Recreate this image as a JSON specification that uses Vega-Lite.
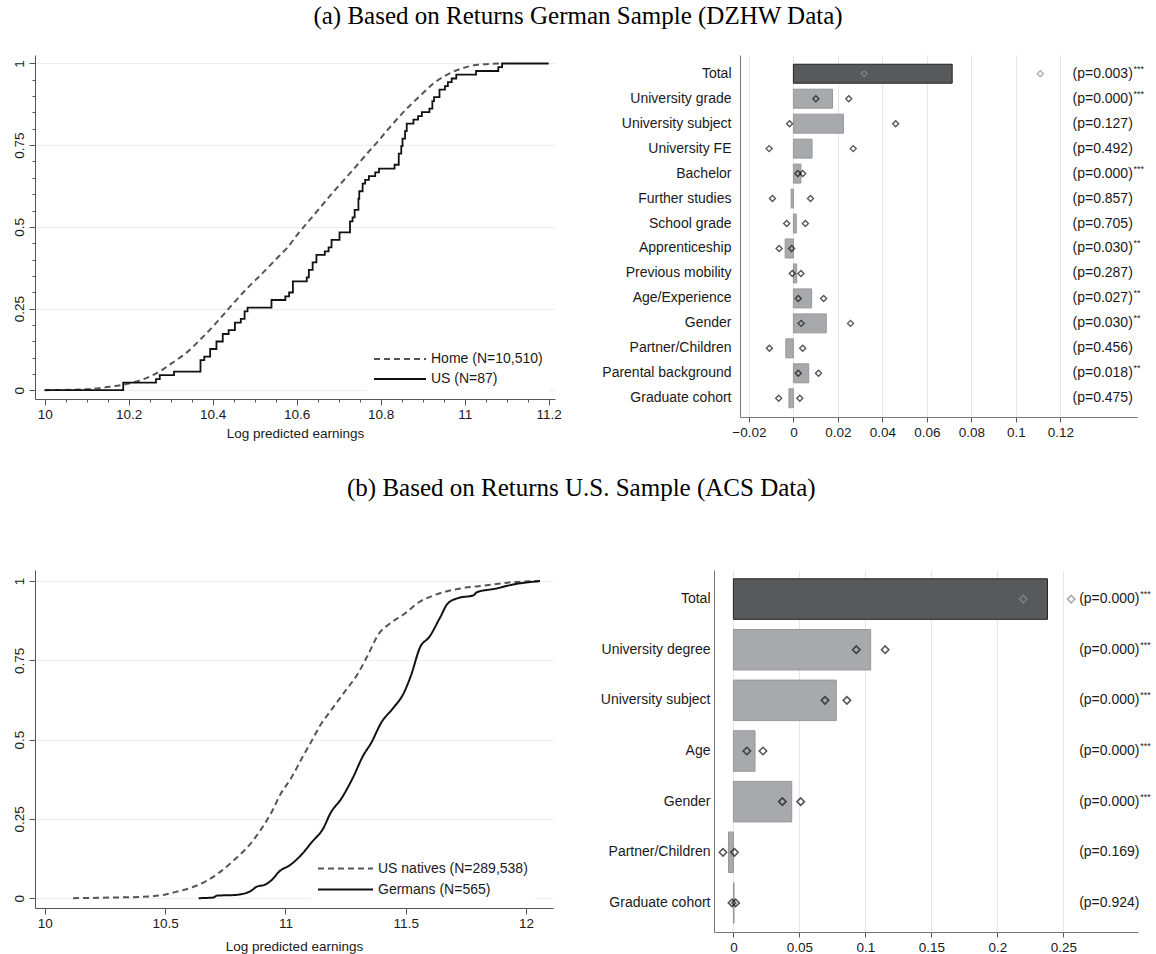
{
  "$schema": "https://vega.github.io/schema/vega-lite/v6.json",
  "padding": {"left": 11, "top": 4, "right": 0, "bottom": 0},
  "background": "white",
  "config": {
    "view": {"stroke": null},
    "font": "Liberation Sans",
    "axis": {"labelFont": "Liberation Sans", "titleFont": "Liberation Sans", "labelFontSize": 13.5, "titleFontSize": 13.5, "labelColor": "#1a1a1a", "titleColor": "#1a1a1a", "titleFontWeight": "normal", "domainColor": "#555555", "tickColor": "#555555", "gridColor": "#ececec"},
    "title": {"font": "Liberation Serif", "fontSize": 25, "fontWeight": "normal", "color": "#000000", "anchor": "middle"},
    "legend": {"labelFont": "Liberation Sans", "labelFontSize": 14, "labelColor": "#1a1a1a", "symbolType": "stroke", "symbolStrokeWidth": 2, "rowPadding": 4, "labelOffset": 4, "padding": 6, "fillColor": "white"}
  },
  "resolve": {"scale": {"color": "independent", "strokeDash": "independent"}, "legend": {"color": "independent", "strokeDash": "independent"}},
  "datasets": {
    "cdfA": [
      {"s": "Home (N=10,510)", "x": 10.0, "y": 0},
      {"s": "Home (N=10,510)", "x": 10.1, "y": 0.003},
      {"s": "Home (N=10,510)", "x": 10.151, "y": 0.01},
      {"s": "Home (N=10,510)", "x": 10.2, "y": 0.02},
      {"s": "Home (N=10,510)", "x": 10.249, "y": 0.041},
      {"s": "Home (N=10,510)", "x": 10.276, "y": 0.059},
      {"s": "Home (N=10,510)", "x": 10.302, "y": 0.082},
      {"s": "Home (N=10,510)", "x": 10.338, "y": 0.115},
      {"s": "Home (N=10,510)", "x": 10.373, "y": 0.158},
      {"s": "Home (N=10,510)", "x": 10.4, "y": 0.194},
      {"s": "Home (N=10,510)", "x": 10.427, "y": 0.233},
      {"s": "Home (N=10,510)", "x": 10.453, "y": 0.271},
      {"s": "Home (N=10,510)", "x": 10.48, "y": 0.309},
      {"s": "Home (N=10,510)", "x": 10.516, "y": 0.355},
      {"s": "Home (N=10,510)", "x": 10.551, "y": 0.401},
      {"s": "Home (N=10,510)", "x": 10.578, "y": 0.437},
      {"s": "Home (N=10,510)", "x": 10.604, "y": 0.48},
      {"s": "Home (N=10,510)", "x": 10.631, "y": 0.521},
      {"s": "Home (N=10,510)", "x": 10.658, "y": 0.562},
      {"s": "Home (N=10,510)", "x": 10.684, "y": 0.602},
      {"s": "Home (N=10,510)", "x": 10.711, "y": 0.641},
      {"s": "Home (N=10,510)", "x": 10.738, "y": 0.68},
      {"s": "Home (N=10,510)", "x": 10.764, "y": 0.719},
      {"s": "Home (N=10,510)", "x": 10.791, "y": 0.758},
      {"s": "Home (N=10,510)", "x": 10.818, "y": 0.799},
      {"s": "Home (N=10,510)", "x": 10.844, "y": 0.837},
      {"s": "Home (N=10,510)", "x": 10.871, "y": 0.873},
      {"s": "Home (N=10,510)", "x": 10.898, "y": 0.906},
      {"s": "Home (N=10,510)", "x": 10.924, "y": 0.937},
      {"s": "Home (N=10,510)", "x": 10.96, "y": 0.967},
      {"s": "Home (N=10,510)", "x": 10.996, "y": 0.986},
      {"s": "Home (N=10,510)", "x": 11.031, "y": 0.996},
      {"s": "Home (N=10,510)", "x": 11.084, "y": 1.0},
      {"s": "US (N=87)", "x": 10.0, "y": 0},
      {"s": "US (N=87)", "x": 10.187, "y": 0.023},
      {"s": "US (N=87)", "x": 10.265, "y": 0.034},
      {"s": "US (N=87)", "x": 10.274, "y": 0.046},
      {"s": "US (N=87)", "x": 10.308, "y": 0.057},
      {"s": "US (N=87)", "x": 10.371, "y": 0.092},
      {"s": "US (N=87)", "x": 10.38, "y": 0.103},
      {"s": "US (N=87)", "x": 10.394, "y": 0.126},
      {"s": "US (N=87)", "x": 10.409, "y": 0.149},
      {"s": "US (N=87)", "x": 10.424, "y": 0.172},
      {"s": "US (N=87)", "x": 10.438, "y": 0.184},
      {"s": "US (N=87)", "x": 10.453, "y": 0.207},
      {"s": "US (N=87)", "x": 10.467, "y": 0.218},
      {"s": "US (N=87)", "x": 10.476, "y": 0.241},
      {"s": "US (N=87)", "x": 10.483, "y": 0.253},
      {"s": "US (N=87)", "x": 10.54, "y": 0.276},
      {"s": "US (N=87)", "x": 10.573, "y": 0.287},
      {"s": "US (N=87)", "x": 10.582, "y": 0.299},
      {"s": "US (N=87)", "x": 10.591, "y": 0.333},
      {"s": "US (N=87)", "x": 10.624, "y": 0.345},
      {"s": "US (N=87)", "x": 10.629, "y": 0.368},
      {"s": "US (N=87)", "x": 10.638, "y": 0.391},
      {"s": "US (N=87)", "x": 10.647, "y": 0.414},
      {"s": "US (N=87)", "x": 10.667, "y": 0.425},
      {"s": "US (N=87)", "x": 10.676, "y": 0.437},
      {"s": "US (N=87)", "x": 10.683, "y": 0.46},
      {"s": "US (N=87)", "x": 10.702, "y": 0.483},
      {"s": "US (N=87)", "x": 10.727, "y": 0.517},
      {"s": "US (N=87)", "x": 10.733, "y": 0.529},
      {"s": "US (N=87)", "x": 10.738, "y": 0.552},
      {"s": "US (N=87)", "x": 10.747, "y": 0.586},
      {"s": "US (N=87)", "x": 10.749, "y": 0.609},
      {"s": "US (N=87)", "x": 10.757, "y": 0.632},
      {"s": "US (N=87)", "x": 10.763, "y": 0.644},
      {"s": "US (N=87)", "x": 10.772, "y": 0.655},
      {"s": "US (N=87)", "x": 10.787, "y": 0.667},
      {"s": "US (N=87)", "x": 10.796, "y": 0.678},
      {"s": "US (N=87)", "x": 10.833, "y": 0.69},
      {"s": "US (N=87)", "x": 10.843, "y": 0.724},
      {"s": "US (N=87)", "x": 10.849, "y": 0.747},
      {"s": "US (N=87)", "x": 10.852, "y": 0.77},
      {"s": "US (N=87)", "x": 10.858, "y": 0.793},
      {"s": "US (N=87)", "x": 10.862, "y": 0.816},
      {"s": "US (N=87)", "x": 10.878, "y": 0.828},
      {"s": "US (N=87)", "x": 10.889, "y": 0.839},
      {"s": "US (N=87)", "x": 10.898, "y": 0.851},
      {"s": "US (N=87)", "x": 10.916, "y": 0.862},
      {"s": "US (N=87)", "x": 10.923, "y": 0.885},
      {"s": "US (N=87)", "x": 10.927, "y": 0.897},
      {"s": "US (N=87)", "x": 10.94, "y": 0.92},
      {"s": "US (N=87)", "x": 10.953, "y": 0.931},
      {"s": "US (N=87)", "x": 10.96, "y": 0.943},
      {"s": "US (N=87)", "x": 10.969, "y": 0.954},
      {"s": "US (N=87)", "x": 10.98, "y": 0.966},
      {"s": "US (N=87)", "x": 11.027, "y": 0.977},
      {"s": "US (N=87)", "x": 11.08, "y": 0.989},
      {"s": "US (N=87)", "x": 11.089, "y": 1.0},
      {"s": "US (N=87)", "x": 11.2, "y": 1.0}
    ],
    "cdfB": [
      {"s": "US natives (N=289,538)", "x": 10.117, "y": 0},
      {"s": "US natives (N=289,538)", "x": 10.277, "y": 0.002},
      {"s": "US natives (N=289,538)", "x": 10.43, "y": 0.005},
      {"s": "US natives (N=289,538)", "x": 10.49, "y": 0.01},
      {"s": "US natives (N=289,538)", "x": 10.551, "y": 0.021},
      {"s": "US natives (N=289,538)", "x": 10.612, "y": 0.034},
      {"s": "US natives (N=289,538)", "x": 10.673, "y": 0.055},
      {"s": "US natives (N=289,538)", "x": 10.734, "y": 0.086},
      {"s": "US natives (N=289,538)", "x": 10.795, "y": 0.126},
      {"s": "US natives (N=289,538)", "x": 10.856, "y": 0.173},
      {"s": "US natives (N=289,538)", "x": 10.901, "y": 0.22},
      {"s": "US natives (N=289,538)", "x": 10.947, "y": 0.278},
      {"s": "US natives (N=289,538)", "x": 10.977, "y": 0.325},
      {"s": "US natives (N=289,538)", "x": 11.023, "y": 0.378},
      {"s": "US natives (N=289,538)", "x": 11.068, "y": 0.441},
      {"s": "US natives (N=289,538)", "x": 11.107, "y": 0.493},
      {"s": "US natives (N=289,538)", "x": 11.145, "y": 0.546},
      {"s": "US natives (N=289,538)", "x": 11.19, "y": 0.593},
      {"s": "US natives (N=289,538)", "x": 11.251, "y": 0.656},
      {"s": "US natives (N=289,538)", "x": 11.297, "y": 0.703},
      {"s": "US natives (N=289,538)", "x": 11.342, "y": 0.766},
      {"s": "US natives (N=289,538)", "x": 11.388, "y": 0.834},
      {"s": "US natives (N=289,538)", "x": 11.434, "y": 0.866},
      {"s": "US natives (N=289,538)", "x": 11.495, "y": 0.897},
      {"s": "US natives (N=289,538)", "x": 11.556, "y": 0.934},
      {"s": "US natives (N=289,538)", "x": 11.616, "y": 0.955},
      {"s": "US natives (N=289,538)", "x": 11.722, "y": 0.976},
      {"s": "US natives (N=289,538)", "x": 11.829, "y": 0.986},
      {"s": "US natives (N=289,538)", "x": 11.951, "y": 0.997},
      {"s": "US natives (N=289,538)", "x": 12.058, "y": 1.0},
      {"s": "Germans (N=565)", "x": 10.639, "y": 0},
      {"s": "Germans (N=565)", "x": 10.7, "y": 0.002},
      {"s": "Germans (N=565)", "x": 10.715, "y": 0.008},
      {"s": "Germans (N=565)", "x": 10.791, "y": 0.01},
      {"s": "Germans (N=565)", "x": 10.852, "y": 0.021},
      {"s": "Germans (N=565)", "x": 10.883, "y": 0.037},
      {"s": "Germans (N=565)", "x": 10.913, "y": 0.042},
      {"s": "Germans (N=565)", "x": 10.944, "y": 0.058},
      {"s": "Germans (N=565)", "x": 10.974, "y": 0.084},
      {"s": "Germans (N=565)", "x": 11.02, "y": 0.105},
      {"s": "Germans (N=565)", "x": 11.065, "y": 0.136},
      {"s": "Germans (N=565)", "x": 11.111, "y": 0.178},
      {"s": "Germans (N=565)", "x": 11.157, "y": 0.22},
      {"s": "Germans (N=565)", "x": 11.187, "y": 0.268},
      {"s": "Germans (N=565)", "x": 11.233, "y": 0.315},
      {"s": "Germans (N=565)", "x": 11.279, "y": 0.378},
      {"s": "Germans (N=565)", "x": 11.324, "y": 0.451},
      {"s": "Germans (N=565)", "x": 11.355, "y": 0.488},
      {"s": "Germans (N=565)", "x": 11.4, "y": 0.556},
      {"s": "Germans (N=565)", "x": 11.446, "y": 0.598},
      {"s": "Germans (N=565)", "x": 11.491, "y": 0.646},
      {"s": "Germans (N=565)", "x": 11.522, "y": 0.703},
      {"s": "Germans (N=565)", "x": 11.56, "y": 0.792},
      {"s": "Germans (N=565)", "x": 11.598, "y": 0.824},
      {"s": "Germans (N=565)", "x": 11.644, "y": 0.887},
      {"s": "Germans (N=565)", "x": 11.674, "y": 0.929},
      {"s": "Germans (N=565)", "x": 11.72, "y": 0.947},
      {"s": "Germans (N=565)", "x": 11.781, "y": 0.955},
      {"s": "Germans (N=565)", "x": 11.796, "y": 0.965},
      {"s": "Germans (N=565)", "x": 11.872, "y": 0.976},
      {"s": "Germans (N=565)", "x": 11.951, "y": 0.99},
      {"s": "Germans (N=565)", "x": 12.058, "y": 1.0}
    ],
    "barsA": [
      {"cat": "Total", "kind": "total", "val": 0.0714, "lo": 0.0318, "hi": 0.111, "p": "(p=0.003)", "stars": "***"},
      {"cat": "University grade", "kind": "component", "val": 0.0176, "lo": 0.0101, "hi": 0.0249, "p": "(p=0.000)", "stars": "***"},
      {"cat": "University subject", "kind": "component", "val": 0.0225, "lo": -0.0017, "hi": 0.046, "p": "(p=0.127)", "stars": ""},
      {"cat": "University FE", "kind": "component", "val": 0.0084, "lo": -0.0109, "hi": 0.0269, "p": "(p=0.492)", "stars": ""},
      {"cat": "Bachelor", "kind": "component", "val": 0.0034, "lo": 0.002, "hi": 0.0042, "p": "(p=0.000)", "stars": "***"},
      {"cat": "Further studies", "kind": "component", "val": -0.001, "lo": -0.0094, "hi": 0.0077, "p": "(p=0.857)", "stars": ""},
      {"cat": "School grade", "kind": "component", "val": 0.0013, "lo": -0.003, "hi": 0.0054, "p": "(p=0.705)", "stars": ""},
      {"cat": "Apprenticeship", "kind": "component", "val": -0.0037, "lo": -0.0064, "hi": -0.0008, "p": "(p=0.030)", "stars": "**"},
      {"cat": "Previous mobility", "kind": "component", "val": 0.0015, "lo": -0.0005, "hi": 0.0034, "p": "(p=0.287)", "stars": ""},
      {"cat": "Age/Experience", "kind": "component", "val": 0.0082, "lo": 0.0022, "hi": 0.0136, "p": "(p=0.027)", "stars": "**"},
      {"cat": "Gender", "kind": "component", "val": 0.0148, "lo": 0.0035, "hi": 0.0257, "p": "(p=0.030)", "stars": "**"},
      {"cat": "Partner/Children", "kind": "component", "val": -0.0034, "lo": -0.0108, "hi": 0.0042, "p": "(p=0.456)", "stars": ""},
      {"cat": "Parental background", "kind": "component", "val": 0.0069, "lo": 0.0022, "hi": 0.0113, "p": "(p=0.018)", "stars": "**"},
      {"cat": "Graduate cohort", "kind": "component", "val": -0.002, "lo": -0.0066, "hi": 0.0029, "p": "(p=0.475)", "stars": ""}
    ],
    "barsB": [
      {"cat": "Total", "kind": "total", "val": 0.238, "lo": 0.2197, "hi": 0.256, "p": "(p=0.000)", "stars": "***"},
      {"cat": "University degree", "kind": "component", "val": 0.104, "lo": 0.0931, "hi": 0.115, "p": "(p=0.000)", "stars": "***"},
      {"cat": "University subject", "kind": "component", "val": 0.078, "lo": 0.0694, "hi": 0.086, "p": "(p=0.000)", "stars": "***"},
      {"cat": "Age", "kind": "component", "val": 0.0164, "lo": 0.0102, "hi": 0.0224, "p": "(p=0.000)", "stars": "***"},
      {"cat": "Gender", "kind": "component", "val": 0.0442, "lo": 0.0371, "hi": 0.051, "p": "(p=0.000)", "stars": "***"},
      {"cat": "Partner/Children", "kind": "component", "val": -0.0037, "lo": -0.0079, "hi": 0.0008, "p": "(p=0.169)", "stars": ""},
      {"cat": "Graduate cohort", "kind": "component", "val": 0.0005, "lo": -0.001, "hi": 0.0017, "p": "(p=0.924)", "stars": ""}
    ]
  },
  "spacing": 36,
  "vconcat": [
    {
      "title": {"text": "(a) Based on Returns German Sample (DZHW Data)", "offset": 26, "anchor": "middle"},
      "spacing": 39,
      "resolve": {"scale": {"color": "independent", "strokeDash": "independent"}, "legend": {"color": "independent", "strokeDash": "independent"}},
      "hconcat": [
        {
          "width": 520, "height": 344,
          "data": {"name": "cdfA"},
          "resolve": {"axis": {"x": "independent", "y": "independent"}},
          "layer": [
            {
              "transform": [{"filter": "datum.s === 'Home (N=10,510)'"}],
              "mark": {"type": "line", "interpolate": "monotone", "strokeWidth": 2},
              "encoding": {
                "x": {"field": "x", "type": "quantitative", "scale": {"domain": [9.977, 11.215], "nice": false, "zero": false},
                      "axis": {"values": [10, 10.2, 10.4, 10.6, 10.8, 11, 11.2], "labelExpr": "'' + datum.value", "title": "Log predicted earnings", "grid": false, "tickSize": 6, "labelPadding": 2, "titlePadding": 6}},
                "y": {"field": "y", "type": "quantitative", "scale": {"domain": [-0.027, 1.026], "nice": false, "zero": false},
                      "axis": {"values": [0, 0.25, 0.5, 0.75, 1], "labelExpr": "'' + datum.value", "title": null, "grid": true, "gridColor": "#eeeeee", "tickSize": 6, "labelAngle": 270, "labelAlign": "center", "labelBaseline": "bottom", "labelPadding": 3}},
                "color": {"field": "s", "type": "nominal", "scale": {"domain": ["Home (N=10,510)", "US (N=87)"], "range": ["#555555", "#111111"]},
                          "legend": {"title": null, "orient": "none", "legendX": 332, "legendY": 290, "symbolSize": 2704, "clipHeight": 16}},
                "strokeDash": {"field": "s", "type": "nominal", "scale": {"domain": ["Home (N=10,510)", "US (N=87)"], "range": [[6, 4], [1, 0]]},
                          "legend": {"title": null, "orient": "none", "legendX": 332, "legendY": 290, "symbolSize": 2704, "clipHeight": 16}}
              }
            },
            {
              "transform": [{"filter": "datum.s === 'US (N=87)'"}],
              "mark": {"type": "line", "interpolate": "step-after", "strokeWidth": 1.8},
              "encoding": {
                "x": {"field": "x", "type": "quantitative", "scale": {"domain": [9.977, 11.215], "nice": false, "zero": false},
                      "axis": {"orient": "bottom", "values": [10.05, 10.1, 10.15, 10.25, 10.3, 10.35, 10.45, 10.5, 10.55, 10.65, 10.7, 10.75, 10.85, 10.9, 10.95, 11.05, 11.1, 11.15], "labels": false, "domain": false, "grid": false, "tickSize": 3, "title": null}},
                "y": {"field": "y", "type": "quantitative", "scale": {"domain": [-0.027, 1.026], "nice": false, "zero": false},
                      "axis": {"orient": "left", "values": [0.05, 0.1, 0.15, 0.2, 0.3, 0.35, 0.4, 0.45, 0.55, 0.6, 0.65, 0.7, 0.8, 0.85, 0.9, 0.95], "labels": false, "domain": false, "grid": false, "tickSize": 3, "title": null}},
                "color": {"field": "s", "type": "nominal", "scale": {"domain": ["Home (N=10,510)", "US (N=87)"], "range": ["#555555", "#111111"]}},
                "strokeDash": {"field": "s", "type": "nominal", "scale": {"domain": ["Home (N=10,510)", "US (N=87)"], "range": [[6, 4], [1, 0]]}}
              }
            }
          ]
        },
        {
          "width": 397, "height": 362,
          "data": {"name": "barsA"},
          "encoding": {
            "y": {"field": "cat", "type": "nominal", "sort": null, "scale": {"paddingInner": 0.24, "paddingOuter": 0.37},
                  "axis": {"title": null, "ticks": false, "labelPadding": 9, "labelFontSize": 14, "domainColor": "#777777", "labelLimit": 300}}
          },
          "layer": [
            {
              "mark": {"type": "bar", "strokeWidth": 1},
              "encoding": {
                "x": {"field": "val", "type": "quantitative", "scale": {"domain": [-0.024, 0.1545], "nice": false, "zero": false},
                      "axis": {"values": [-0.02, 0, 0.02, 0.04, 0.06, 0.08, 0.1, 0.12], "format": "~g", "title": null, "grid": true, "gridColor": "#e6e6e6", "tickSize": 5, "labelPadding": 3, "domainColor": "#777777", "tickColor": "#555555"}},
                "x2": {"datum": 0},
                "color": {"condition": {"test": "datum.kind === 'total'", "value": "#58595b"}, "value": "#a8a9ac"},
                "stroke": {"condition": {"test": "datum.kind === 'total'", "value": "#222222"}, "value": "#989898"}
              }
            },
            {
              "mark": {"type": "rule", "color": "#555555", "strokeWidth": 1.5},
              "encoding": {"x": {"datum": 0}}
            },
            {
              "mark": {"type": "point", "shape": "diamond", "filled": false, "size": 36, "strokeWidth": 1.4},
              "encoding": {
                "x": {"field": "lo", "type": "quantitative", "scale": {"domain": [-0.024, 0.1545], "nice": false, "zero": false}},
                "stroke": {"condition": {"test": "datum.kind === 'total'", "value": "#8c8c8c"}, "value": "#111111"}
              }
            },
            {
              "mark": {"type": "point", "shape": "diamond", "filled": false, "size": 36, "strokeWidth": 1.4},
              "encoding": {
                "x": {"field": "hi", "type": "quantitative", "scale": {"domain": [-0.024, 0.1545], "nice": false, "zero": false}},
                "stroke": {"condition": {"test": "datum.kind === 'total'", "value": "#8c8c8c"}, "value": "#111111"}
              }
            },
            {
              "mark": {"type": "text", "align": "left", "baseline": "middle", "fontSize": 14, "font": "Liberation Sans", "color": "#1a1a1a"},
              "encoding": {"x": {"datum": 0.1255}, "text": {"field": "p"}}
            },
            {
              "mark": {"type": "text", "align": "left", "baseline": "middle", "fontSize": 9, "font": "Liberation Sans", "color": "#1a1a1a", "dx": 61, "dy": -5},
              "encoding": {"x": {"datum": 0.1255}, "text": {"field": "stars"}}
            }
          ]
        }
      ]
    },
    {
      "title": {"text": "(b) Based on Returns U.S. Sample (ACS Data)", "offset": 69, "anchor": "middle"},
      "spacing": 47,
      "resolve": {"scale": {"color": "independent", "strokeDash": "independent"}, "legend": {"color": "independent", "strokeDash": "independent"}},
      "hconcat": [
        {
          "width": 518, "height": 338,
          "data": {"name": "cdfB"},
          "layer": [
            {
              "transform": [{"filter": "datum.s === 'US natives (N=289,538)'"}],
              "mark": {"type": "line", "interpolate": "monotone", "strokeWidth": 2},
              "encoding": {
                "x": {"field": "x", "type": "quantitative", "scale": {"domain": [9.959, 12.112], "nice": false, "zero": false},
                      "axis": {"values": [10, 10.5, 11, 11.5, 12], "labelExpr": "'' + datum.value", "title": "Log predicted earnings", "grid": false, "tickSize": 6, "labelPadding": 2, "titlePadding": 10}},
                "y": {"field": "y", "type": "quantitative", "scale": {"domain": [-0.031, 1.035], "nice": false, "zero": false},
                      "axis": {"values": [0, 0.25, 0.5, 0.75, 1], "labelExpr": "'' + datum.value", "title": null, "grid": true, "gridColor": "#eeeeee", "tickSize": 6, "labelAngle": 270, "labelAlign": "center", "labelBaseline": "bottom", "labelPadding": 3}},
                "color": {"field": "s", "type": "nominal", "scale": {"domain": ["US natives (N=289,538)", "Germans (N=565)"], "range": ["#555555", "#111111"]},
                          "legend": {"title": null, "orient": "none", "legendX": 276, "legendY": 284, "symbolSize": 3025, "clipHeight": 17}},
                "strokeDash": {"field": "s", "type": "nominal", "scale": {"domain": ["US natives (N=289,538)", "Germans (N=565)"], "range": [[6, 4], [1, 0]]},
                          "legend": {"title": null, "orient": "none", "legendX": 276, "legendY": 284, "symbolSize": 3025, "clipHeight": 17}}
              }
            },
            {
              "transform": [{"filter": "datum.s === 'Germans (N=565)'"}],
              "mark": {"type": "line", "interpolate": "monotone", "strokeWidth": 2},
              "encoding": {
                "x": {"field": "x", "type": "quantitative"},
                "y": {"field": "y", "type": "quantitative"},
                "color": {"field": "s", "type": "nominal"},
                "strokeDash": {"field": "s", "type": "nominal"}
              }
            }
          ]
        },
        {
          "width": 424, "height": 362,
          "data": {"name": "barsB"},
          "encoding": {
            "y": {"field": "cat", "type": "nominal", "sort": null, "scale": {"paddingInner": 0.2, "paddingOuter": 0.174},
                  "axis": {"title": null, "ticks": false, "labelPadding": 4, "labelFontSize": 14, "domainColor": "#777777", "labelLimit": 300}}
          },
          "layer": [
            {
              "mark": {"type": "bar", "strokeWidth": 1},
              "encoding": {
                "x": {"field": "val", "type": "quantitative", "scale": {"domain": [-0.0147, 0.3066], "nice": false, "zero": false},
                      "axis": {"values": [0, 0.05, 0.1, 0.15, 0.2, 0.25], "format": "~g", "title": null, "grid": true, "gridColor": "#e6e6e6", "tickSize": 5, "labelPadding": 3, "domainColor": "#777777", "tickColor": "#555555"}},
                "x2": {"datum": 0},
                "color": {"condition": {"test": "datum.kind === 'total'", "value": "#58595b"}, "value": "#a8a9ac"},
                "stroke": {"condition": {"test": "datum.kind === 'total'", "value": "#222222"}, "value": "#989898"}
              }
            },
            {
              "mark": {"type": "rule", "color": "#555555", "strokeWidth": 1.5},
              "encoding": {"x": {"datum": 0}}
            },
            {
              "mark": {"type": "point", "shape": "diamond", "filled": false, "size": 55, "strokeWidth": 1.6},
              "encoding": {
                "x": {"field": "lo", "type": "quantitative", "scale": {"domain": [-0.0147, 0.3066], "nice": false, "zero": false}},
                "stroke": {"condition": {"test": "datum.kind === 'total'", "value": "#8c8c8c"}, "value": "#111111"}
              }
            },
            {
              "mark": {"type": "point", "shape": "diamond", "filled": false, "size": 55, "strokeWidth": 1.6},
              "encoding": {
                "x": {"field": "hi", "type": "quantitative", "scale": {"domain": [-0.0147, 0.3066], "nice": false, "zero": false}},
                "stroke": {"condition": {"test": "datum.kind === 'total'", "value": "#8c8c8c"}, "value": "#111111"}
              }
            },
            {
              "mark": {"type": "text", "align": "left", "baseline": "middle", "fontSize": 14, "font": "Liberation Sans", "color": "#1a1a1a"},
              "encoding": {"x": {"datum": 0.262}, "text": {"field": "p"}}
            },
            {
              "mark": {"type": "text", "align": "left", "baseline": "middle", "fontSize": 9, "font": "Liberation Sans", "color": "#1a1a1a", "dx": 61, "dy": -5},
              "encoding": {"x": {"datum": 0.262}, "text": {"field": "stars"}}
            }
          ]
        }
      ]
    }
  ]
}
